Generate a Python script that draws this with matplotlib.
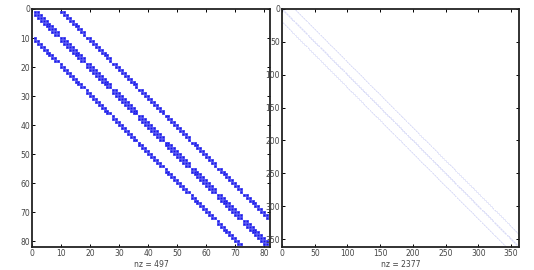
import numpy as np
import matplotlib
matplotlib.use('Agg')
from matplotlib import pyplot as plt

# grid sizes of the two matrices (n x n grid -> n*n unknowns)
gridSizes = [9, 19]
# stencil neighbours on the grid (dx, dy): triangular mesh, 7 points
stencil = [(0, 0), (1, 0), (-1, 0), (0, 1), (0, -1), (1, 1), (-1, -1)]
xTicks = [list(range(0, 81, 10)), list(range(0, 351, 50))]
markerSizes = [1.6, 0.45]
edgeWidths = [0.6, 0.0]
markerColors = ['#1a1ae6', '#d4d7f6']
edgeColors = ['#3a3af0', 'none']

def pattern(n):
	rows = []
	cols = []
	for y in range(n):
		for x in range(n):
			for dx, dy in stencil:
				xx = x + dx
				yy = y + dy
				if 0 <= xx < n and 0 <= yy < n:
					rows.append(x + n*y + 1)
					cols.append(xx + n*yy + 1)
	return np.array(rows), np.array(cols)

fig = plt.figure(figsize=(5.34, 2.70), dpi=100)
axPos = [[32/534., 23/270., 238/534., 238/270.],
	[282/534., 23/270., 237/534., 238/270.]]

for i, n in enumerate(gridSizes):
	N = n*n
	r, c = pattern(n)
	ax = fig.add_axes(axPos[i])
	ln, = ax.plot(c, r, 's', color=markerColors[i], markersize=markerSizes[i],
		markeredgewidth=edgeWidths[i], markeredgecolor=edgeColors[i], linestyle='none')
	ln.set_snap(False)
	ax.set_xlim(0, N+1)
	ax.set_ylim(N+1, 0)
	ax.set_xticks(xTicks[i])
	ax.set_yticks(xTicks[i])
	ax.tick_params(direction='in', length=2.5, width=0.7, labelsize=5.5,
		labelcolor='#444444', top=True, right=True, pad=1.5)
	for s in ax.spines.values():
		s.set_linewidth(1.3)
		s.set_color('#222222')
	ax.set_xlabel('nz = %d' % len(r), fontsize=5.5, color='#444444', labelpad=1.5)

fig.savefig('out.png', dpi=100)
